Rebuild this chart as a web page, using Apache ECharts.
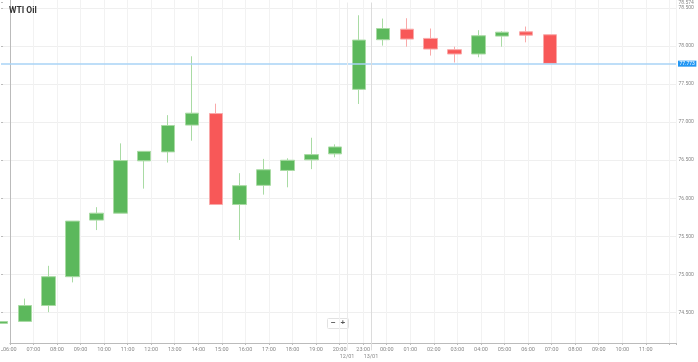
<!DOCTYPE html>
<html>
<head>
<meta charset="utf-8">
<script src="https://cdn.jsdelivr.net/npm/echarts@6/dist/echarts.min.js"></script>
<style>html,body{margin:0;padding:0;background:#fff}#c{width:698px;height:362px}</style>
</head>
<body>
<div id="c"></div>
<script>
const categories = ['06:00','07:00','08:00','09:00','10:00','11:00','12:00','13:00','14:00','15:00','16:00','17:00','18:00','19:00','20:00','23:00','00:00','01:00','02:00','03:00','04:00','05:00','06:00','07:00','08:00','09:00','10:00','11:00'];
const openVals  = [74.355,74.381,74.590,74.969,75.713,75.804,76.492,76.610,76.962,77.114,75.918,76.170,76.366,76.505,76.584,77.432,78.085,78.223,78.102,77.954,77.897,78.132,78.189,78.150];
const closeVals = [74.380,74.590,74.969,75.700,75.804,76.496,76.617,76.957,77.119,75.918,76.166,76.375,76.500,76.574,76.675,78.080,78.232,78.093,77.962,77.897,78.137,78.184,78.145,77.773];
const lowVals   = [74.350,74.381,74.503,74.894,75.582,75.804,76.127,76.470,76.757,75.918,75.452,76.048,76.144,76.383,76.539,77.240,78.007,77.993,77.876,77.785,77.854,77.993,78.050,77.773];
const highVals  = [74.385,74.681,75.112,75.700,75.883,76.722,76.617,77.093,77.867,77.244,76.330,76.518,76.526,76.796,76.709,78.406,78.363,78.367,78.232,77.993,78.210,78.197,78.258,78.150];
const lastPrice = 77.773;
const dateMarks = [{pos: 14.5, label: '12/01'}, {pos: 15.5, label: '13/01'}];
const yTicks = ['78.500','78.000','77.500','77.000','76.500','76.000','75.500','75.000','74.500'];

const chart = echarts.init(document.getElementById('c'), null, {renderer: 'canvas'});
const data = openVals.map((o, i) => [i, o, closeVals[i], lowVals[i], highVals[i]]);
const XMAX = 28.28;
const splitColors = ['rgba(0,0,0,0)'].concat(yTicks.map(() => '#efefef'));

const option = {
  animation: false,
  title: {text: 'WTI Oil', left: 9, top: 6, padding: 0, textStyle: {fontSize: 8.5, fontWeight: 'bold', color: '#333', fontFamily: 'Roboto'}},
  grid: [
    {left: 1, right: 22, top: 0, bottom: 11.6},
    {left: 1, right: 22, top: 0, bottom: 19}
  ],
  xAxis: [
    {gridIndex: 0, type: 'value', min: 0, max: XMAX, show: false},
    {gridIndex: 1, type: 'value', min: 0, max: XMAX, interval: 1,
     axisLine: {lineStyle: {color: '#bbb'}},
     axisTick: {length: 2, lineStyle: {color: '#bbb'}},
     axisLabel: {fontSize: 5.5, color: '#888', margin: 3.5, fontFamily: 'Roboto', formatter: v => categories[v] || ''},
     splitLine: {show: true, lineStyle: {color: '#f2f2f2'}}}
  ],
  yAxis: [
    {gridIndex: 0, type: 'value', position: 'right', min: 74, max: 78.574, interval: 0.5,
     axisLine: {show: false},
     axisTick: {show: true, length: 2, lineStyle: {color: '#bbb'}},
     axisLabel: {fontSize: 5, color: '#888', margin: 2.5, fontFamily: 'Roboto', formatter: v => (v === 74 ? '' : v.toFixed(3))},
     splitLine: {show: true, lineStyle: {color: splitColors}}},
    {gridIndex: 1, type: 'value', position: 'right', min: 0, max: 1,
     axisLine: {show: true, lineStyle: {color: '#bbb'}},
     axisTick: {show: false}, axisLabel: {show: false}, splitLine: {show: false}}
  ],
  series: [{
    type: 'candlestick',
    xAxisIndex: 0, yAxisIndex: 0,
    barWidth: 14,
    encode: {x: 0, y: [1, 2, 3, 4]},
    data: data,
    itemStyle: {color: '#5cb85c', borderColor: '#a9dba4', color0: '#f85858', borderColor0: '#f9a9a9', borderWidth: 1},
    markLine: {
      silent: true, symbol: ['none', 'none'], animation: false,
      data: [
        {yAxis: lastPrice, lineStyle: {color: '#a8d3f6', width: 1.5, type: 'solid'},
         label: {show: true, position: 'end', formatter: lastPrice.toFixed(3), backgroundColor: '#2196f3', color: '#fff', fontSize: 5, padding: [0.5, 1.5], distance: 2, fontFamily: 'Roboto'}},
        {xAxis: dateMarks[0].pos, lineStyle: {color: '#ececec', width: 1, type: 'solid'},
         label: {show: true, position: 'start', formatter: dateMarks[0].label, color: '#888', fontSize: 5.5, distance: 3, fontFamily: 'Roboto'}},
        {xAxis: dateMarks[1].pos, lineStyle: {color: '#dcdcdc', width: 1, type: 'solid'},
         label: {show: true, position: 'start', formatter: dateMarks[1].label, color: '#888', fontSize: 5.5, distance: 3, fontFamily: 'Roboto'}}
      ]
    }
  }],
  graphic: [{
    type: 'group', left: 327, top: 318,
    children: [
      {type: 'rect', shape: {x: 0, y: 0, width: 21, height: 10, r: 1}, style: {fill: '#fff', stroke: '#e2e2e2', lineWidth: 1}},
      {type: 'text', x: 3.5, y: 0.5, style: {text: '−', fontSize: 8, fill: '#555', fontWeight: 'bold'}},
      {type: 'text', x: 13, y: 0.5, style: {text: '+', fontSize: 8, fill: '#555', fontWeight: 'bold'}}
    ]
  }]
};
chart.setOption(option);
</script>
</body>
</html>
